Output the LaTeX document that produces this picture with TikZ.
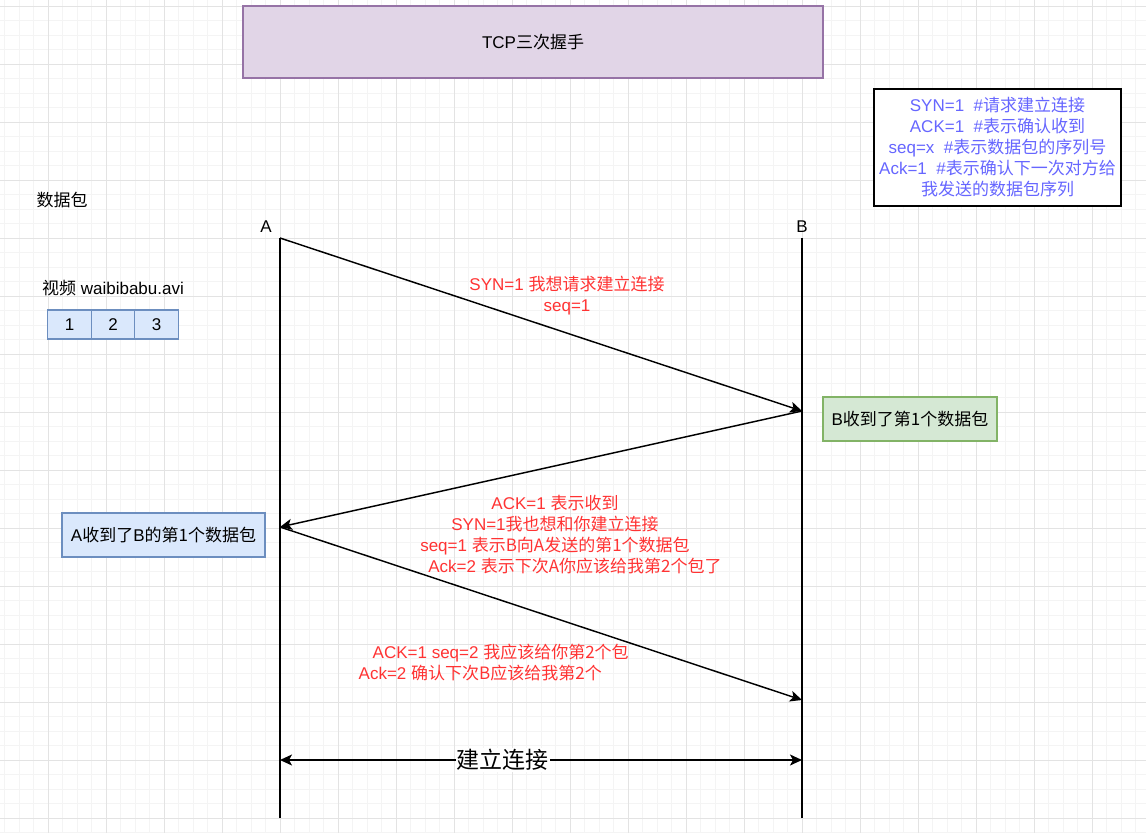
\documentclass[tikz,border=0pt]{standalone}
\usepackage{fontspec}
\setmainfont{Liberation Sans}
\newfontfamily\cjk{Noto Sans CJK SC}
\newcommand\zh[1]{{\cjk #1}}
\usetikzlibrary{arrows.meta, positioning}

\definecolor{gridminor}{HTML}{F4F4F4}
\definecolor{gridmajor}{HTML}{E3E3E3}
\definecolor{msgred}{HTML}{FF3333}
\definecolor{notecol}{HTML}{6666FF}
\definecolor{purplefill}{HTML}{E1D5E7}
\definecolor{purpleline}{HTML}{9673A6}
\definecolor{bluefill}{HTML}{DAE8FC}
\definecolor{blueline}{HTML}{6C8EBF}
\definecolor{greenfill}{HTML}{D5E8D4}
\definecolor{greenline}{HTML}{82B366}

\tikzset{
  msg/.style={-{Stealth[length=12pt, width=11pt, inset=3pt]}},
  span/.style={{Stealth[length=12pt, width=11pt, inset=3pt]}-{Stealth[length=12pt, width=11pt, inset=3pt]}},
  redtext/.style={text=msgred, align=center, inner sep=0pt},
  bluebox/.style={draw=blueline, fill=bluefill, inner sep=0pt, outer sep=0pt},
  greenbox/.style={draw=greenline, fill=greenfill, inner sep=0pt, outer sep=0pt},
}

\begin{document}
\begin{tikzpicture}[x=1pt, y=-1pt, line width=1.45pt, font=\fontsize{17}{21}\selectfont]
  \useasboundingbox (0,0) rectangle (1146,833);
  \fill[white] (0,0) rectangle (1146,833);

  % 背景网格：小格 14.5，大格 58
  \foreach \i in {0,...,78}
    \draw[gridminor, line width=1pt] ({4.5+14.5*\i},0) -- ({4.5+14.5*\i},833);
  \foreach \i in {0,...,57}
    \draw[gridminor, line width=1pt] (0,{6+14.5*\i}) -- (1146,{6+14.5*\i});
  \foreach \i in {0,...,18}
    \draw[gridmajor, line width=1pt] ({48+58*\i},0) -- ({48+58*\i},833);
  \foreach \i in {0,...,14}
    \draw[gridmajor, line width=1pt] (0,{6+58*\i}) -- (1146,{6+58*\i});

  % 标题
  \node[draw=purpleline, fill=purplefill, minimum width=580pt, minimum height=72pt, inner sep=0pt] (title) at (533,42) {TCP\zh{三次握手}};

  % 说明
  \node[draw=black, fill=white, text=notecol, align=center, minimum width=247pt, minimum height=117pt, inner sep=0pt] (legend) at (997.5,147.5)
    {SYN=1\ \ \#\zh{请求建立连接}\\ACK=1\ \ \#\zh{表示确认收到}\\seq=x\ \ \#\zh{表示数据包的序列号}\\Ack=1\ \ \#\zh{表示确认下一次对方给}\\\zh{我发送的数据包序列}};

  % 数据包
  \node (pkt) at (62,200) {\zh{数据包}};
  \node (video) at (113,288) {\zh{视频} waibibabu.avi};
  \node[bluebox, minimum width=43.5pt, minimum height=29pt] (p1) at (69.5,324.5) {1};
  \node[bluebox, minimum width=43.5pt, minimum height=29pt, right=0pt of p1] (p2) {2};
  \node[bluebox, minimum width=43.5pt, minimum height=29pt, right=0pt of p2] (p3) {3};

  % 两条时间线
  \coordinate (Atop) at (280,238);
  \coordinate (Abot) at (280,818);
  \coordinate (Btop) at (802,238);
  \coordinate (Bbot) at (802,818);
  \draw (Atop) -- (Abot);
  \draw (Btop) -- (Bbot);
  \node (Aname) at (266,227) {A};
  \node (Bname) at (802,227) {B};

  % 三次握手
  \coordinate (B1) at (802,411);
  \coordinate (A2) at (280,527);
  \coordinate (B2) at (802,700);
  \draw[msg] (Atop) -- (B1);
  \draw[msg] (B1) -- (A2);
  \draw[msg] (A2) -- (B2);

  \node[redtext] (syn) at (567,295.5) {SYN=1 \zh{我想请求建立连接}\\seq=1};
  \node[redtext] (ack) at (555,535)
    {ACK=1 \zh{表示收到}\\SYN=1\zh{我也想和你建立连接}\\seq=1 \zh{表示B向A发送的第1个数据包}\\\hspace*{40pt}Ack=2 \zh{表示下次A你应该给我第2个包了}};
  \node[redtext, align=left, anchor=west] (ack2) at (358,662.5)
    {\hspace*{14pt}ACK=1 seq=2 \zh{我应该给你第2个包}\\Ack=2 \zh{确认下次B应该给我第2个}};

  \node[greenbox, minimum width=174pt, minimum height=44pt] (Brecv) at (910,419) {B\zh{收到了第1个数据包}};
  \node[bluebox, minimum width=203pt, minimum height=44pt] (Arecv) at (163.5,535) {A\zh{收到了}B\zh{的第1个数据包}};

  % 建立连接
  \coordinate (Lleft) at (280,760);
  \coordinate (Lright) at (802,760);
  \draw[span] (Lleft) -- node[pos=0.427, fill=white, inner sep=1pt, font=\fontsize{23}{26}\selectfont] (conn) {\zh{建立连接}} (Lright);
\end{tikzpicture}
\end{document}
